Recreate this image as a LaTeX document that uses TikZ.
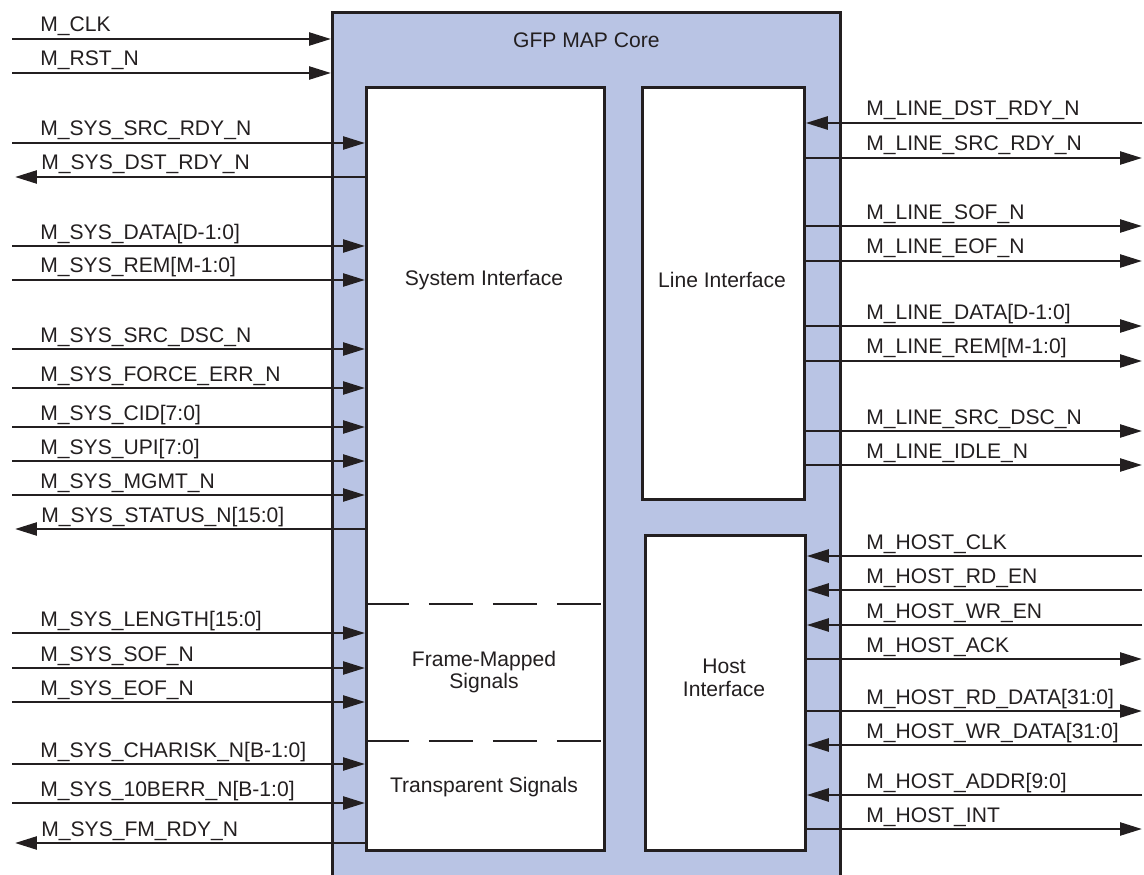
\documentclass[tikz,border=0pt]{standalone}
\usepackage{fontspec}
\setmainfont{Liberation Sans}
\usepackage{xcolor}
\definecolor{gfpblue}{RGB}{185,196,228}
\definecolor{gfpink}{RGB}{35,31,32}
\usepackage{tikz}
\usetikzlibrary{arrows.meta,positioning}
\tikzset{
  core/.style={draw=gfpink,fill=gfpblue,line width=1.6pt,anchor=north west,inner sep=0pt},
  block/.style={draw=gfpink,fill=white,line width=1.6pt,anchor=north west,inner sep=0pt},
  txt/.style={font=\fontsize{12}{13}\selectfont,text=gfpink,inner sep=0pt,align=center},
  pin/.style={txt,anchor=base west},
  sig/.style={-{Triangle[length=4.4mm,width=2.6mm]},draw=gfpink,line width=1.4pt},
  sep/.style={draw=gfpink,line width=1.5pt,dash pattern=on 8.8mm off 4mm},
}

\begin{document}
\begin{tikzpicture}[x=0.02cm,y=-0.02cm]
\useasboundingbox (0,0) rectangle (1144,875);

% core and its blocks
\node[core,minimum width=10.16cm,minimum height=17.4cm] (core) at (331,11) {};
\node[txt,below=0.42cm of core.north] (coretxt) {GFP MAP Core};
\node[block,minimum width=4.76cm,minimum height=15.26cm] (si) at (365,86) {};
\node[block,minimum width=3.24cm,minimum height=8.24cm] (li) at (641,86) {};
\node[block,minimum width=3.2cm,minimum height=6.3cm] (hi) at (644,534) {};

% dashed splits of the system interface
\draw[sep] (si.west |- 0,604) -- (si.east |- 0,604);
\draw[sep] (si.west |- 0,741) -- (si.east |- 0,741);

\node[txt] (sitxt) at (484,280) {System Interface};
\node[txt] (fmtxt) at (484,672) {Frame-Mapped\\Signals};
\node[txt] (tstxt) at (484,787) {Transparent Signals};
\node[txt] (litxt) at (722,280) {Line Interface};
\node[txt] (hitxt) at (724,678) {Host\\Interface};

% clock and reset
\foreach \y/\name in {39/M\_CLK, 73/M\_RST\_N} {
  \draw[sig] (12,\y) -- (core.west |- 0,\y);
  \node[pin] (pin-\y) at (40,\y-7) {\name};
}

% system side, inputs
\foreach \y/\name in {143/M\_SYS\_SRC\_RDY\_N, 246/M\_SYS\_DATA[D-1:0],
    280/M\_SYS\_REM[M-1:0], 349/M\_SYS\_SRC\_DSC\_N, 388/M\_SYS\_FORCE\_ERR\_N,
    427/M\_SYS\_CID[7:0], 461/M\_SYS\_UPI[7:0], 495/M\_SYS\_MGMT\_N,
    633/M\_SYS\_LENGTH[15:0], 668/M\_SYS\_SOF\_N, 702/M\_SYS\_EOF\_N,
    764/M\_SYS\_CHARISK\_N[B-1:0], 803/M\_SYS\_10BERR\_N[B-1:0]} {
  \draw[sig] (12,\y) -- (si.west |- 0,\y);
  \node[pin] (pin-\y) at (40,\y-7) {\name};
}

% system side, outputs
\foreach \y/\name in {177/M\_SYS\_DST\_RDY\_N, 529/M\_SYS\_STATUS\_N[15:0],
    843/M\_SYS\_FM\_RDY\_N} {
  \draw[sig] (si.west |- 0,\y) -- (15,\y);
  \node[pin] (pin-\y) at (41,\y-7) {\name};
}

% line and host side, inputs
\foreach \y/\blk/\name in {123/li/M\_LINE\_DST\_RDY\_N, 556/hi/M\_HOST\_CLK,
    590/hi/M\_HOST\_RD\_EN, 625/hi/M\_HOST\_WR\_EN, 745/hi/M\_HOST\_WR\_DATA[31:0],
    795/hi/M\_HOST\_ADDR[9:0]} {
  \draw[sig] (1142,\y) -- (\blk.east |- 0,\y);
  \node[pin] (pin-\y) at (866,\y-7) {\name};
}

% line and host side, outputs
\foreach \y/\blk/\name in {158/li/M\_LINE\_SRC\_RDY\_N, 226/li/M\_LINE\_SOF\_N,
    261/li/M\_LINE\_EOF\_N, 326/li/M\_LINE\_DATA[D-1:0], 361/li/M\_LINE\_REM[M-1:0],
    431/li/M\_LINE\_SRC\_DSC\_N, 465/li/M\_LINE\_IDLE\_N, 659/hi/M\_HOST\_ACK,
    711/hi/M\_HOST\_RD\_DATA[31:0], 829/hi/M\_HOST\_INT} {
  \draw[sig] (\blk.east |- 0,\y) -- (1142,\y);
  \node[pin] (pin-\y) at (866,\y-7) {\name};
}
\end{tikzpicture}
\end{document}
